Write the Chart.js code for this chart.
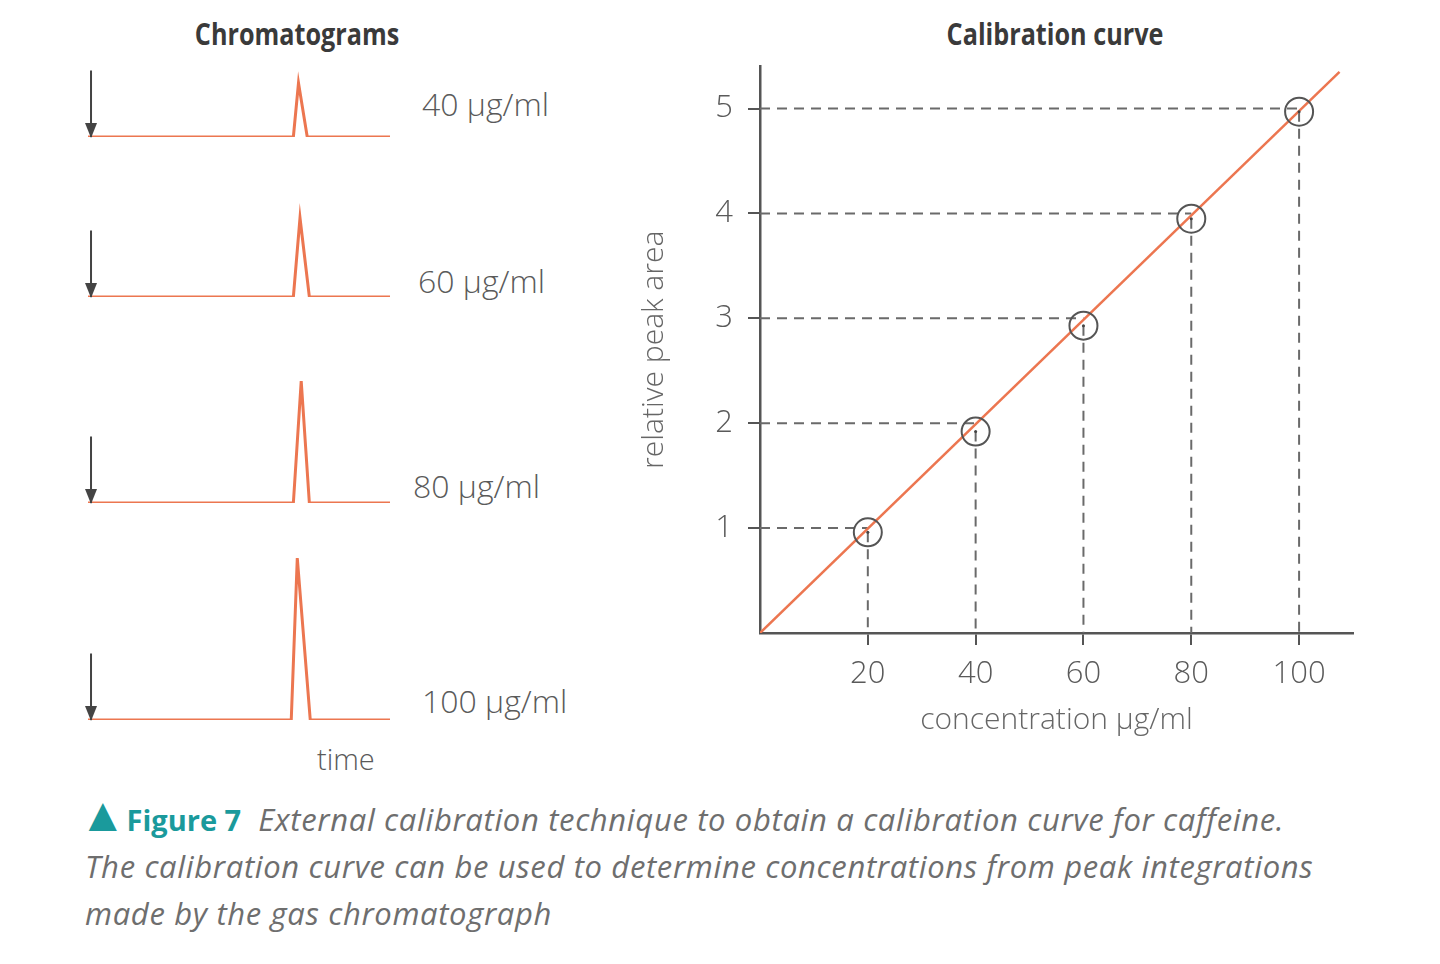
<!DOCTYPE html>
<html>
<head>
<meta charset="utf-8">
<title>External calibration</title>
<script src="https://cdn.jsdelivr.net/npm/chart.js@4.4.1/dist/chart.umd.min.js"></script>
<style>
  body {
    margin: 0;
    width: 1440px;
    height: 964px;
    background: #fff;
    position: relative;
    overflow: hidden;
    font-family: "Open Sans", sans-serif;
  }
  canvas { position: absolute; }
  .head {
    position: absolute;
    font-family: "Open Sans", sans-serif;
    font-weight: bold;
    font-size: 30px;
    color: #3a3a3a;
    transform: translate(-50%, -50%) scaleX(0.84);
    white-space: nowrap;
  }
  .lab {
    position: absolute;
    font-size: 32px;
    font-weight: 300;
    color: #5a5a5a;
    transform: translateY(-50%);
    white-space: nowrap;
  }
  #caption {
    position: absolute;
    left: 85px;
    top: 796px;
    font-size: 31px;
    line-height: 47px;
    color: #6e6e6e;
    white-space: nowrap;
  }
  #caption .tri {
    font-size: 48px;
    color: #1a9a9c;
    line-height: 30px;
    margin-left: -6px;
  }
  #caption .fig {
    font-weight: bold;
    font-size: 29px;
    color: #1a9a9c;
    margin-left: 0px;
    margin-right: 17px;
  }
  #caption i { font-style: italic; letter-spacing: 0.65px; }
</style>
</head>
<body>

<div class="head" style="left:297px; top:33px;">Chromatograms</div>
<div class="head" style="left:1055px; top:33px;">Calibration curve</div>
<div class="lab" style="left:317px; top:758px; font-size:29px;">time</div>

<canvas id="chrom0"></canvas>
<canvas id="chrom1"></canvas>
<canvas id="chrom2"></canvas>
<canvas id="chrom3"></canvas>
<canvas id="calChart"></canvas>

<div id="caption"><span class="tri">&#9650;</span><span class="fig">Figure 7</span><i>External calibration technique to obtain a calibration curve for caffeine.</i><br><i>The calibration curve can be used to determine concentrations from peak integrations</i><br><i>made by the gas chromatograph</i></div>

<script>
// chromatogram data (time in % of run, signal in arbitrary units)
const chromLabels = ["40 µg/ml", "60 µg/ml", "80 µg/ml", "100 µg/ml"];
const chromTimes = [
  [0, 68, 69.7, 72.6, 100],
  [0, 68, 70.2, 73.3, 100],
  [0, 68, 70.6, 73.3, 100],
  [0, 67.3, 69.3, 73.6, 100],
];
const chromSignals = [
  [0, 0, 1.08, 0, 0],
  [0, 0, 1.58, 0, 0],
  [0, 0, 2.44, 0, 0],
  [0, 0, 3.24, 0, 0],
];
const injectionTime = [1, 1];
const injectionArrow = [1.33, 0];

// calibration data
const concentration = [20, 40, 60, 80, 100];
const peakArea = [0.96, 1.92, 2.93, 3.95, 4.97];
const areaTicks = [1, 2, 3, 4, 5];
const concTicks = [20, 40, 60, 80, 100];
const fitX = [0, 107.5];
const fitY = [0, 5.35];

const ORANGE = "#ec7650";
const GREY = "#555";
const DASH = "#6a6a6a";

// layout of the four small chromatograms
const chromBaseline = [137, 297, 503, 720];
const chromAreaH = [120, 120, 175, 175];
const chromLabelPos = [[422, 103], [418, 280], [413, 485], [422, 700]];
const PX_PER_UNIT = 50;

const arrowHead = {
  id: "arrowHead",
  afterDatasetsDraw(chart) {
    chart.data.datasets.forEach((ds, i) => {
      if (!ds.arrow) return;
      const pts = chart.getDatasetMeta(i).data;
      const tip = pts[pts.length - 1];
      const ctx = chart.ctx;
      ctx.save();
      ctx.fillStyle = ds.borderColor;
      ctx.beginPath();
      ctx.moveTo(tip.x, tip.y + 1);
      ctx.lineTo(tip.x - 6, tip.y - 14);
      ctx.lineTo(tip.x + 6, tip.y - 14);
      ctx.closePath();
      ctx.fill();
      ctx.restore();
    });
  },
};

chromLabels.forEach((label, k) => {
  const cv = document.getElementById("chrom" + k);
  const h = chromAreaH[k] + 10;
  cv.width = 318;
  cv.height = h;
  cv.style.left = "80px";
  cv.style.top = chromBaseline[k] - chromAreaH[k] - 4 + "px";

  const lab = document.createElement("div");
  lab.className = "lab";
  lab.textContent = label;
  lab.style.left = chromLabelPos[k][0] + "px";
  lab.style.top = chromLabelPos[k][1] + "px";
  document.body.appendChild(lab);

  new Chart(cv.getContext("2d"), {
    type: "line",
    data: {
      datasets: [
        {
          data: injectionTime.map((t, i) => ({ x: t, y: injectionArrow[i] })),
          borderColor: "#444",
          borderWidth: 2,
          pointRadius: 0,
          arrow: true,
          order: 1,
        },
        {
          data: chromTimes[k].map((t, i) => ({ x: t, y: chromSignals[k][i] })),
          borderColor: ORANGE,
          borderWidth: 3,
          pointRadius: 0,
          tension: 0,
          order: 2,
        },
      ],
    },
    options: {
      responsive: false,
      animation: false,
      devicePixelRatio: 1,
      layout: { padding: { left: 8, right: 8, top: 4, bottom: 6 } },
      scales: {
        x: { type: "linear", min: 0, max: 100, display: false },
        y: { min: 0, max: chromAreaH[k] / PX_PER_UNIT, display: false },
      },
      plugins: { legend: { display: false }, tooltip: { enabled: false } },
    },
    plugins: [arrowHead],
  });
});

// calibration curve
const calCanvas = document.getElementById("calChart");
calCanvas.width = 760;
calCanvas.height = 707;
calCanvas.style.left = "620px";
calCanvas.style.top = "33px";

const calDatasets = [];
calDatasets.push({
  data: fitX.map((x, i) => ({ x, y: fitY[i] })),
  borderColor: ORANGE,
  borderWidth: 2.5,
  pointRadius: 0,
  order: 2,
});
concentration.forEach((c, i) => {
  calDatasets.push({
    data: [{ x: 0, y: areaTicks[i] }, { x: c, y: areaTicks[i] }],
    borderColor: DASH,
    borderWidth: 2,
    borderDash: [10, 7],
    pointRadius: 0,
    order: 3,
  });
  calDatasets.push({
    data: [{ x: c, y: peakArea[i] }, { x: c, y: 0 }],
    borderColor: DASH,
    borderWidth: 2,
    borderDash: [10, 7],
    pointRadius: 0,
    order: 3,
  });
});
calDatasets.push({
  data: concentration.map((c, i) => ({ x: c, y: peakArea[i] })),
  showLine: false,
  pointRadius: 14,
  pointBorderWidth: 2,
  pointBorderColor: GREY,
  pointBackgroundColor: "rgba(0,0,0,0)",
  order: 1,
});
calDatasets.push({
  data: concentration.map((c, i) => ({ x: c, y: peakArea[i] })),
  showLine: false,
  pointRadius: 1.5,
  pointBorderWidth: 0,
  pointBackgroundColor: "#444",
  order: 0,
});

const tickFont = { family: "Open Sans", size: 31, weight: 300 };
const titleFont = { family: "Open Sans", size: 30, weight: 300 };

new Chart(calCanvas.getContext("2d"), {
  type: "line",
  data: { datasets: calDatasets },
  options: {
    responsive: false,
    animation: false,
    devicePixelRatio: 1,
    layout: { padding: { left: 0, right: 27, top: 0, bottom: 0 } },
    scales: {
      x: {
        type: "linear",
        min: 0,
        max: 110,
        afterBuildTicks: (s) => {
          s.ticks = concTicks.map((v) => ({ value: v }));
        },
        afterFit: (s) => {
          s.height = 107;
        },
        border: { color: GREY, width: 2.5 },
        grid: { drawOnChartArea: false, tickLength: 12, color: GREY, lineWidth: 2 },
        ticks: { color: "#5a5a5a", font: tickFont, padding: 11, maxRotation: 0 },
        title: {
          display: true,
          text: "concentration µg/ml",
          color: "#666",
          font: titleFont,
          padding: { top: 0, bottom: 2 },
        },
      },
      y: {
        min: 0,
        max: 5.4,
        afterBuildTicks: (s) => {
          s.ticks = areaTicks.map((v) => ({ value: v }));
        },
        afterFit: (s) => {
          s.width = 140;
        },
        border: { color: GREY, width: 2.5 },
        grid: { drawOnChartArea: false, tickLength: 12, color: GREY, lineWidth: 2 },
        ticks: { color: "#5a5a5a", font: tickFont, padding: 15 },
        title: {
          display: true,
          text: "relative peak area",
          color: "#666",
          font: titleFont,
          padding: { top: 16, bottom: 0 },
        },
      },
    },
    plugins: { legend: { display: false }, tooltip: { enabled: false } },
  },
});
</script>
</body>
</html>
